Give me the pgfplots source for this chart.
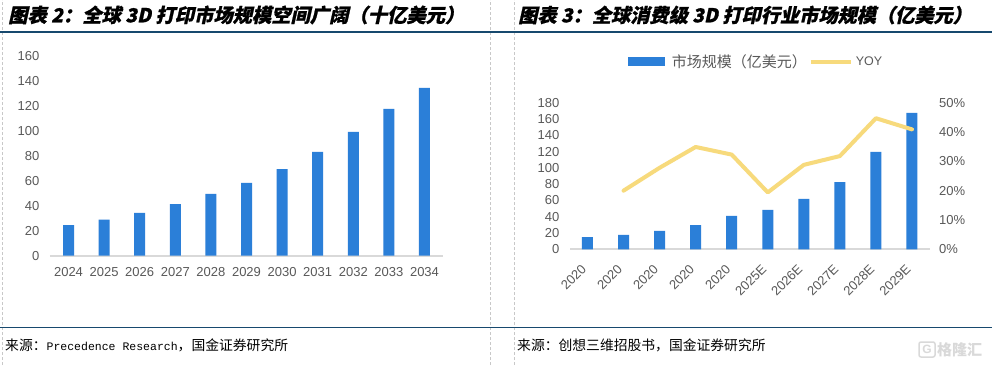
\documentclass[border=0pt]{standalone}
\usepackage{pgfplots}
\pgfplotsset{compat=1.18}
\usepackage{fontspec}
\setmainfont{Liberation Sans}
\setmonofont{Liberation Mono}
\newfontfamily\cjk{Noto Sans CJK SC}
\newfontfamily\cjktitle[FakeSlant=0.22,FakeBold=1]{Noto Sans CJK SC}
\definecolor{barblue}{HTML}{2B7FD8}
\definecolor{yoy}{HTML}{F7DA7C}
\definecolor{navy}{HTML}{17496E}
\definecolor{tickgray}{HTML}{595959}
\definecolor{axgray}{HTML}{D9D9D9}
\definecolor{sepgray}{HTML}{C8C8C8}
\pgfplotsset{
  /pgf/number format/assume math mode=true,
  common/.style={
    scale only axis,
    axis lines=left,
    axis line style={-},
    y axis line style={draw=none},
    x axis line style={axgray, line width=2pt},
    tick style={draw=none},
    major tick length=0pt,
    ticklabel style={font=\fontsize{13}{15}\selectfont, text=tickgray},
  }
}
\begin{document}
\begin{tikzpicture}[x=1pt,y=1pt]
\useasboundingbox (0,0) rectangle (992,365);
\fill[white] (0,0) rectangle (992,365);
% separators
\draw[sepgray, dash pattern=on 3pt off 2pt, line width=0.8pt] (2.5,0) -- (2.5,365);
\draw[sepgray, dash pattern=on 3pt off 2pt, line width=0.8pt] (490.7,0) -- (490.7,365);
\draw[sepgray, dash pattern=on 3pt off 2pt, line width=0.8pt] (514.3,0) -- (514.3,365);
\draw[navy, line width=1.2pt] (0,333) -- (992,333);
\draw[navy, line width=1.2pt] (0,37.5) -- (992,37.5);
% titles
\node[anchor=west, inner sep=0pt] at (8,350) {\cjktitle\bfseries\fontsize{19.3}{21}\selectfont 图表 2：全球 3D 打印市场规模空间广阔（十亿美元）};
\node[anchor=west, inner sep=0pt] at (518,350) {\cjktitle\bfseries\fontsize{19.2}{21}\selectfont 图表 3：全球消费级 3D 打印行业市场规模（亿美元）};
% sources
\node[anchor=west, inner sep=0pt] at (5,20) {\cjk\fontsize{13.8}{16}\selectfont 来源：{\ttfamily\fontsize{11.5}{14}\selectfont Precedence Research}，国金证券研究所};
\node[anchor=west, inner sep=0pt] at (517,20) {\cjk\fontsize{13.8}{16}\selectfont 来源：创想三维招股书，国金证券研究所};
% watermark
\draw[black!15, line width=1.5pt, rounded corners=2pt] (919,8) rectangle (935,23);
\node[anchor=center, inner sep=0pt, text=black!15] at (927,15.5) {\bfseries\fontsize{12}{12}\selectfont G};
\node[anchor=west, inner sep=0pt, text=black!15] at (937,15.5) {\cjk\bfseries\fontsize{15}{15}\selectfont 格隆汇};

% ---------- left chart ----------
\begin{axis}[common,
  at={(50pt,109.3pt)}, anchor=south west,
  width=393pt, height=199.3pt,
  xmin=-0.52, xmax=10.52, ymin=0, ymax=160,
  ytick={0,20,...,160},
  yticklabel style={inner sep=0pt, xshift=-10.5pt},
  xtick={0,...,10},
  xticklabels={2024,2025,2026,2027,2028,2029,2030,2031,2032,2033,2034},
  xticklabel style={inner sep=0pt, yshift=-12pt},
]
\addplot[ybar, bar width=11pt, fill=barblue, draw=none] coordinates {
(0,24.6) (1,29.0) (2,34.4) (3,41.5) (4,49.6) (5,58.4) (6,69.6) (7,83.3) (8,99.4) (9,117.8) (10,134.7)};
\end{axis}

% ---------- right chart: bars ----------
\begin{axis}[common,
  at={(570pt,115.7pt)}, anchor=south west,
  width=360pt, height=146.6pt,
  xmin=-0.485, xmax=9.5, ymin=0, ymax=180,
  ytick={0,20,...,180},
  yticklabel style={inner sep=0pt, xshift=-10.5pt},
  xtick={0,...,9},
  xticklabels={2020,2020,2020,2020,2020,2025E,2026E,2027E,2028E,2029E},
  xticklabel style={xshift=-7pt, yshift=-14pt, rotate=45, anchor=north east, inner sep=0pt},
  legend style={at={(0.16,1.281)}, anchor=west, draw=none, fill=none,
    inner sep=0pt, nodes={inner sep=0pt, text=tickgray, font=\cjk\fontsize{15}{17}\selectfont},
    legend columns=2,
    /tikz/every odd column/.append style={column sep=7pt},
    /tikz/every even column/.append style={column sep=2pt}},
]
\addplot[ybar, bar width=11pt, fill=barblue, draw=none,
  legend image code/.code={\fill[barblue] (0pt,-4.5pt) rectangle (37pt,4.5pt);}] coordinates {
(0,15.1) (1,17.6) (2,22.5) (3,29.8) (4,40.9) (5,48.3) (6,61.8) (7,82.6) (8,119.5) (9,167.4)};
\addlegendentry{市场规模（亿美元）}
\addlegendimage{legend image code/.code={\draw[yoy, line width=4pt] (0pt,0pt) -- (40pt,0pt);}}
\addlegendentry{\hspace*{-4pt}{\fontspec{Liberation Sans}\fontsize{12.5}{14}\selectfont YOY}}
\end{axis}

% ---------- right chart: YOY ----------
\begin{axis}[common,
  at={(570pt,115.7pt)}, anchor=south west,
  width=360pt, height=146.6pt,
  xmin=-0.485, xmax=9.5, ymin=0, ymax=50,
  axis x line=none,
  axis y line*=right,
  ytick={0,10,...,50},
  yticklabels={0\%,10\%,20\%,30\%,40\%,50\%},
  yticklabel style={inner sep=0pt, anchor=west, xshift=9pt},
]
\addplot[yoy, line width=4pt, line join=round, line cap=round] coordinates {
(1,20.0) (2,27.8) (3,34.9) (4,32.3) (5,19.4) (6,28.8) (7,31.8) (8,44.7) (9,40.9)};
\end{axis}
\end{tikzpicture}
\end{document}
